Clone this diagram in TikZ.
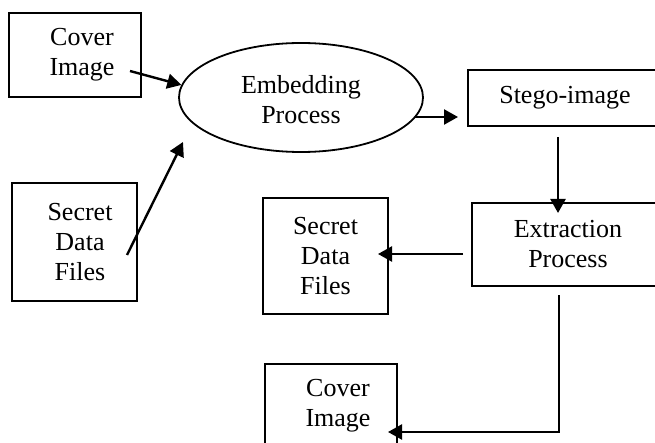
\documentclass[tikz,border=0pt]{standalone}
\usepackage{fontspec}
\setmainfont{Liberation Serif}
\usetikzlibrary{arrows.meta,shapes.geometric}
\newcommand{\shiftln}[1]{\hspace*{#1}}
\begin{document}
\begin{tikzpicture}[x=1pt,y=-1pt,
  txt/.style={font=\fontsize{26}{30}\selectfont, align=center, inner sep=0pt},
  boxnode/.style={txt, draw, line width=1.8pt, rectangle},
  ellnode/.style={txt, draw, line width=1.8pt, ellipse},
  arr/.style={line width=2.4pt, -{Triangle[length=14pt,width=15pt]}}]
\useasboundingbox (0,0) rectangle (655,443);
\clip (0,0) rectangle (655,443);
\fill[white] (0,0) rectangle (655,443);
% nodes
\node[boxnode, minimum width=132pt, minimum height=84pt] (cover1) at (75,55)
  {\shiftln{14pt}Cover\\\shiftln{14pt}Image};
\node[boxnode, minimum width=125pt, minimum height=118pt] (secret1) at (74.5,242)
  {\shiftln{11pt}Secret\\\shiftln{11pt}Data\\\shiftln{11pt}Files};
\node[ellnode, minimum width=244pt, minimum height=109pt] (emb) at (301,97.5) {};
\node[txt] (embtxt) at (301,100) {Embedding\\Process};
\node[boxnode, minimum width=194pt, minimum height=56pt] (stego) at (565,98) {Stego-image};
\node[boxnode, minimum width=192pt, minimum height=83pt] (extr) at (568,244.5) {Extraction\\Process};
\node[boxnode, minimum width=125pt, minimum height=116pt] (secret2) at (325.5,256) {Secret\\Data\\Files};
\node[boxnode, minimum width=132pt, minimum height=84pt] (cover2) at (331,406)
  {\shiftln{14pt}Cover\\\shiftln{14pt}Image};
% free ends of connectors
\coordinate (a1s) at (130,71);
\coordinate (a2s) at (127,255);
\coordinate (a2e) at (183,142);
\coordinate (a3s) at (415,117);
\coordinate (a3e) at (458,117);
\coordinate (a4s) at (558,137);
\coordinate (a4e) at (558,213);
\coordinate (a5s) at (463,254);
\coordinate (a5e) at (378,254);
\coordinate (a6s) at (559,295);
\coordinate (a6c) at (559,432);
\coordinate (a6e) at (388,432);
% connectors
\draw[arr] (a1s) -- (emb.174);
\draw[arr] (a2s) -- (a2e);
\draw[arr] (a3s) -- (a3e);
\draw[arr] (a4s) -- (a4e);
\draw[arr] (a5s) -- (a5e);
\draw[arr] (a6s) -- (a6c) -- (a6e);
\end{tikzpicture}
\end{document}
